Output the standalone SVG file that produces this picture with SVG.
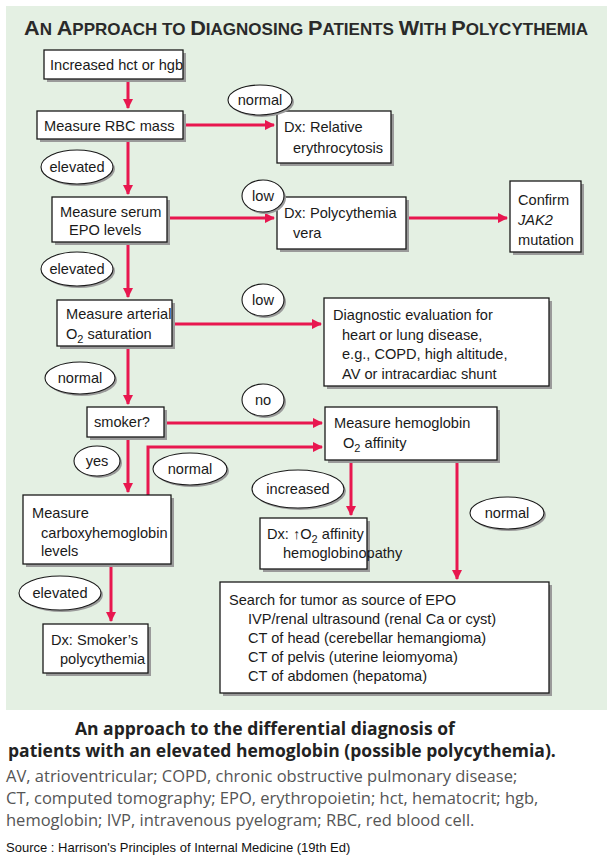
<svg xmlns="http://www.w3.org/2000/svg" width="611" height="866" viewBox="0 0 611 866">
<defs>
<style>
.b{fill:#fff;stroke:#1a1a1a;stroke-width:1.3}
.s{fill:#9a9a9a}
.e{fill:#fff;stroke:#1a1a1a;stroke-width:1.1}
.t{font-family:"Liberation Sans",Arial,sans-serif;font-size:14.6px;fill:#1a1a1a}
.c{stroke:#e8174f;stroke-width:3;fill:none}
.cap{font-family:"Open Sans","Liberation Sans",sans-serif;font-size:17.5px;fill:#222;font-weight:bold}
.g{font-family:"Open Sans","Liberation Sans",sans-serif;font-size:16.5px;fill:#555}
</style>
<marker id="a" viewBox="0 0 10 10" refX="9" refY="5" markerWidth="3.5" markerHeight="3.5" orient="auto"><path d="M0,0L10,5L0,10z" fill="#e8174f"/></marker>
</defs>
<rect x="6" y="6" width="601" height="704" fill="#e4f0e3"/>
<text x="306" y="35" text-anchor="middle" font-family="'Liberation Sans',Arial,sans-serif" font-weight="bold" font-size="21" fill="#2a2a2a" textLength="564" lengthAdjust="spacingAndGlyphs"><tspan>A</tspan><tspan font-size="16.5">N </tspan><tspan>A</tspan><tspan font-size="16.5">PPROACH TO </tspan><tspan>D</tspan><tspan font-size="16.5">IAGNOSING </tspan><tspan>P</tspan><tspan font-size="16.5">ATIENTS </tspan><tspan>W</tspan><tspan font-size="16.5">ITH </tspan><tspan>P</tspan><tspan font-size="16.5">OLYCYTHEMIA</tspan></text>

<g id="connectors">
<path class="c" d="M128 79V108" marker-end="url(#a)"/>
<path class="c" d="M183 125H274" marker-end="url(#a)"/>
<path class="c" d="M128 139V194" marker-end="url(#a)"/>
<path class="c" d="M167 218H274" marker-end="url(#a)"/>
<path class="c" d="M406 218H507" marker-end="url(#a)"/>
<path class="c" d="M128 242V297" marker-end="url(#a)"/>
<path class="c" d="M172 324H321" marker-end="url(#a)"/>
<path class="c" d="M128 346V404" marker-end="url(#a)"/>
<path class="c" d="M164 423H322" marker-end="url(#a)"/>
<path class="c" d="M128 437V492" marker-end="url(#a)"/>
<path class="c" d="M148 495V447H322" marker-end="url(#a)"/>
<path class="c" d="M351 460V515" marker-end="url(#a)"/>
<path class="c" d="M457 460V579" marker-end="url(#a)"/>
<path class="c" d="M111 564V621" marker-end="url(#a)"/>
</g>

<g id="n1"><rect class="s" x="47" y="53" width="139" height="29"/><rect class="b" x="44" y="50" width="139" height="29"/><text class="t" x="50" y="70">Increased hct or hgb</text></g>
<g id="n2"><rect class="s" x="40" y="114" width="146" height="28"/><rect class="b" x="37" y="111" width="146" height="28"/><text class="t" x="44" y="131">Measure RBC mass</text></g>
<g id="n3"><rect class="s" x="280" y="114" width="114" height="52"/><rect class="b" x="277" y="111" width="114" height="52"/><text class="t" x="284" y="132">Dx: Relative</text><text class="t" x="293" y="153">erythrocytosis</text></g>
<g id="n4"><rect class="s" x="55" y="200" width="115" height="45"/><rect class="b" x="52" y="197" width="115" height="45"/><text class="t" x="60" y="217">Measure serum</text><text class="t" x="69" y="235">EPO levels</text></g>
<g id="n5"><rect class="s" x="280" y="200" width="129" height="52"/><rect class="b" x="277" y="197" width="129" height="52"/><text class="t" x="284" y="218">Dx: Polycythemia</text><text class="t" x="293" y="238">vera</text></g>
<g id="n6"><rect class="s" x="513" y="184" width="71" height="71"/><rect class="b" x="510" y="181" width="71" height="71"/><text class="t" x="518" y="205">Confirm</text><text class="t" x="518" y="225" font-style="italic">JAK2</text><text class="t" x="518" y="245">mutation</text></g>
<g id="n7"><rect class="s" x="60" y="303" width="115" height="46"/><rect class="b" x="57" y="300" width="115" height="46"/><text class="t" x="66" y="319">Measure arterial</text><text class="t" x="66" y="339">O<tspan font-size="11" dy="4">2</tspan><tspan dy="-4"> saturation</tspan></text></g>
<g id="n8"><rect class="s" x="327" y="301" width="225" height="88"/><rect class="b" x="324" y="298" width="225" height="88"/><text class="t" x="333" y="320">Diagnostic evaluation for</text><text class="t" x="342" y="340">heart or lung disease,</text><text class="t" x="342" y="359">e.g., COPD, high altitude,</text><text class="t" x="342" y="379">AV or intracardiac shunt</text></g>
<g id="n9"><rect class="s" x="90" y="410" width="77" height="30"/><rect class="b" x="87" y="407" width="77" height="30"/><text class="t" x="94" y="427">smoker?</text></g>
<g id="n10"><rect class="s" x="328" y="410" width="172" height="53"/><rect class="b" x="325" y="407" width="172" height="53"/><text class="t" x="334" y="428">Measure hemoglobin</text><text class="t" x="343" y="448">O<tspan font-size="11" dy="4">2</tspan><tspan dy="-4"> affinity</tspan></text></g>
<g id="n11"><rect class="s" x="26" y="498" width="148" height="69"/><rect class="b" x="23" y="495" width="148" height="69"/><text class="t" x="32" y="518">Measure</text><text class="t" x="41" y="538">carboxyhemoglobin</text><text class="t" x="41" y="556">levels</text></g>
<g id="n12"><rect class="s" x="263" y="521" width="107" height="51"/><rect class="b" x="260" y="518" width="107" height="51"/><text class="t" x="267" y="539">Dx: <tspan>↑</tspan>O<tspan font-size="11" dy="4">2</tspan><tspan dy="-4"> affinity</tspan></text><text class="t" x="283" y="558">hemoglobinopathy</text></g>
<g id="n13"><rect class="s" x="223" y="585" width="329" height="111"/><rect class="b" x="220" y="582" width="329" height="111"/><text class="t" x="229" y="605">Search for tumor as source of EPO</text><text class="t" x="248" y="624">IVP/renal ultrasound (renal Ca or cyst)</text><text class="t" x="248" y="643">CT of head (cerebellar hemangioma)</text><text class="t" x="248" y="662">CT of pelvis (uterine leiomyoma)</text><text class="t" x="248" y="681">CT of abdomen (hepatoma)</text></g>
<g id="n14"><rect class="s" x="46" y="627" width="105" height="49"/><rect class="b" x="43" y="624" width="105" height="49"/><text class="t" x="51" y="645">Dx: Smoker’s</text><text class="t" x="60" y="664">polycythemia</text></g>

<g id="labels">
<ellipse class="s" cx="262" cy="102" rx="32" ry="15"/><ellipse class="e" cx="260" cy="100" rx="32" ry="15"/><text class="t" x="260" y="105" text-anchor="middle">normal</text>
<ellipse class="s" cx="79" cy="169" rx="36" ry="17"/><ellipse class="e" cx="77" cy="167" rx="36" ry="17"/><text class="t" x="77" y="172" text-anchor="middle">elevated</text>
<ellipse class="s" cx="265" cy="198" rx="21" ry="16"/><ellipse class="e" cx="263" cy="196" rx="21" ry="16"/><text class="t" x="263" y="201" text-anchor="middle">low</text>
<ellipse class="s" cx="79" cy="271" rx="36" ry="17"/><ellipse class="e" cx="77" cy="269" rx="36" ry="17"/><text class="t" x="77" y="274" text-anchor="middle">elevated</text>
<ellipse class="s" cx="265" cy="302" rx="21" ry="16"/><ellipse class="e" cx="263" cy="300" rx="21" ry="16"/><text class="t" x="263" y="305" text-anchor="middle">low</text>
<ellipse class="s" cx="82" cy="380" rx="35" ry="16"/><ellipse class="e" cx="80" cy="378" rx="35" ry="16"/><text class="t" x="80" y="383" text-anchor="middle">normal</text>
<ellipse class="s" cx="265" cy="402" rx="21" ry="16"/><ellipse class="e" cx="263" cy="400" rx="21" ry="16"/><text class="t" x="263" y="405" text-anchor="middle">no</text>
<ellipse class="s" cx="99" cy="463" rx="23" ry="15"/><ellipse class="e" cx="97" cy="461" rx="23" ry="15"/><text class="t" x="97" y="466" text-anchor="middle">yes</text>
<ellipse class="s" cx="192" cy="471" rx="37" ry="16"/><ellipse class="e" cx="190" cy="469" rx="37" ry="16"/><text class="t" x="190" y="474" text-anchor="middle">normal</text>
<ellipse class="s" cx="300" cy="491" rx="46" ry="19"/><ellipse class="e" cx="298" cy="489" rx="46" ry="19"/><text class="t" x="298" y="494" text-anchor="middle">increased</text>
<ellipse class="s" cx="509" cy="515" rx="37" ry="16"/><ellipse class="e" cx="507" cy="513" rx="37" ry="16"/><text class="t" x="507" y="518" text-anchor="middle">normal</text>
<ellipse class="s" cx="62" cy="595" rx="41" ry="17"/><ellipse class="e" cx="60" cy="593" rx="41" ry="17"/><text class="t" x="60" y="598" text-anchor="middle">elevated</text>
</g>

<text class="cap" x="75" y="735">An approach to the differential diagnosis of</text>
<text class="cap" x="8" y="757">patients with an elevated hemoglobin (possible polycythemia).</text>
<text class="g" x="6" y="782">AV, atrioventricular; COPD, chronic obstructive pulmonary disease;</text>
<text class="g" x="6" y="804">CT, computed tomography; EPO, erythropoietin; hct, hematocrit; hgb,</text>
<text class="g" x="6" y="826">hemoglobin; IVP, intravenous pyelogram; RBC, red blood cell.</text>
<text x="6" y="852" font-family="'Liberation Sans',Arial,sans-serif" font-size="13" fill="#111">Source : Harrison's Principles of Internal Medicine (19th Ed)</text>
</svg>
